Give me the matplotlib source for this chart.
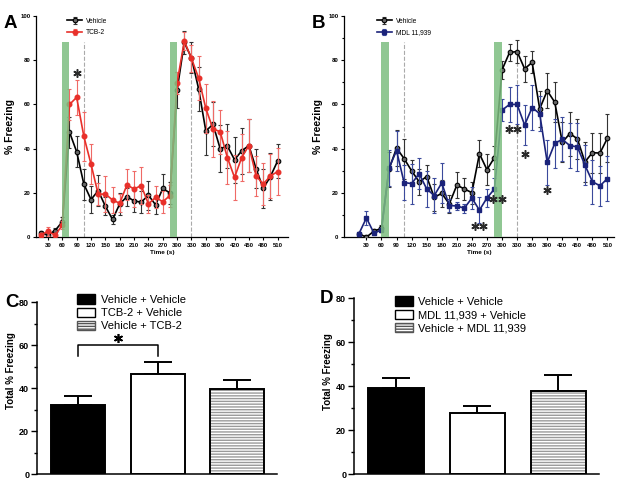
import numpy as np
import matplotlib.pyplot as plt
from matplotlib.patches import Patch
from matplotlib.ticker import MultipleLocator

plt.rcParams['font.family'] = ['Liberation Sans', 'DejaVu Sans']

# time course (s)
time_s = [15, 30, 45, 60, 75, 90, 105, 120, 135, 150, 165, 180, 195, 210, 225, 240, 255,
          270, 285, 300, 315, 330, 345, 360, 375, 390, 405, 420, 435, 450, 465, 480, 495, 510]
xtick_s = [30, 60, 90, 120, 150, 180, 210, 240, 270, 300, 330, 360, 390, 420, 450, 480, 510]

# panel A
veh_a = [2, 1, 3, 7, 47.5, 38.6, 24, 17, 21, 14, 8, 15, 18.3, 16.4, 15.8, 19, 14.6,
         22, 20, 66.5, 88, 81, 67, 48, 51, 40, 41.2, 35, 39, 41.4, 31, 22, 27.4, 34.4]
veh_a_err = [1, 1.5, 1, 2, 7, 7, 7, 6, 7, 4, 2, 5, 4, 5, 5, 6.5, 4,
             6.5, 5, 8, 5, 7, 10, 11, 10, 10.5, 10, 10.5, 10.5, 12, 9, 9, 10.5, 7.5]
tcb = [1, 2.7, 0.8, 5.5, 60, 63.2, 45.6, 33, 19.4, 19.5, 16.8, 15.3, 23.6, 21.8, 23.3, 15, 18,
       16, 18.8, 69.8, 88.7, 80.8, 71.9, 58.2, 48.9, 47.7, 36, 27, 36, 41.4, 27.7, 24, 27.7, 29.6]
tcb_err = [1, 2, 1, 2, 7, 8, 11, 9, 5, 8, 6, 4, 7, 8, 8.5, 4, 5,
           5, 5, 5, 4, 6, 10, 11, 12.5, 10, 12, 10, 10.5, 12, 9, 9.5, 10, 10.5]

# panel B
veh_b = [1.5, 0, 2.7, 4, 30.7, 40.3, 35.5, 30, 25, 27.4, 18, 19.8, 15, 23.5, 21.8, 20.1, 37.7,
         30.5, 36, 75.6, 83.5, 83.9, 76.1, 79, 58, 66.2, 61, 42.9, 46.8, 44.5, 34, 38.2, 38, 44.8]
veh_b_err = [1, 1, 1, 1.5, 8, 8, 9, 5, 6, 5, 6, 6, 4, 6, 5, 5, 6,
             7, 5, 4, 4, 5, 6, 5, 8, 8, 9, 9, 10, 9, 9, 9, 9, 11]
mdl = [1.5, 8.7, 1.8, 3.3, 31.3, 39.1, 24.7, 24.2, 28.7, 21.8, 18.8, 24.5, 14.3, 14.1, 13.1, 17.7, 12.2,
       17.7, 21.8, 57.4, 60, 60, 50.7, 58.6, 55.8, 33.8, 42.4, 44.2, 41.4, 40.8, 32.6, 25.1, 23.2, 26.5]
mdl_err = [1, 3, 1, 1, 8, 9, 8, 9, 7, 8, 8, 9, 3, 2, 2, 5, 6,
           4, 5, 5, 8, 9, 9, 10, 8, 10, 11, 10, 10, 11, 9, 10, 9, 10]

tone_windows = [(60, 75), (285, 300)]
shock_times = [105, 330]
marker_top = 88

stars_a_t = [90]
stars_a_y = [74]
stars_b_t = [246, 263, 283, 299, 314, 330, 346, 390]
stars_b_y = [5, 5, 17.3, 17.3, 49, 49, 37.7, 21.5]

# panels C / D
groups_c = ['Vehicle + Vehicle', 'TCB-2 + Vehicle', 'Vehicle + TCB-2']
total_c = [32.0, 46.4, 39.5]
total_c_err = [4.4, 5.6, 4.2]
groups_d = ['Vehicle + Vehicle', 'MDL 11,939 + Vehicle', 'Vehicle + MDL 11,939']
total_d = [39.3, 27.7, 37.9]
total_d_err = [4.4, 3.4, 7.2]

green = '#7dbd80'


def bold_ticks(ax):
    for lbl in ax.get_xticklabels() + ax.get_yticklabels():
        lbl.set_fontweight('bold')


def time_panel(ax, y1, e1, y2, e2, c2, ec2, m2, ms2, label2, st_t, st_y, xlim, minor_y):
    ax.errorbar(time_s, y1, yerr=e1, color='black', ecolor='#333333', marker='o', ms=3.3,
                mfc='#666666', mec='black', mew=0.8, lw=1.2, elinewidth=0.8, capsize=1.2,
                capthick=0.8, label='Vehicle', zorder=3)
    ax.errorbar(time_s, y2, yerr=e2, color=c2, ecolor=ec2, marker=m2, ms=ms2,
                mfc=c2, mec=c2, lw=1.2, elinewidth=0.8, capsize=1.2, capthick=0.8,
                label=label2, zorder=4)
    for t0, t1 in tone_windows:
        ax.fill_between([t0, t1], 0, marker_top, color=green, alpha=0.85, lw=0, zorder=5)
    for t in shock_times:
        ax.plot([t, t], [0, marker_top], ls='--', color='#aaaaaa', lw=0.8, zorder=1)
    ax.plot(st_t, st_y, ls='none', marker=(6, 2, 0), ms=6, mew=1.1, color='#2a2a2a', zorder=6)
    ax.set_xlim(*xlim)
    ax.set_ylim(0, 100)
    ax.set_xticks(xtick_s)
    ax.set_yticks([0, 20, 40, 60, 80, 100])
    if minor_y:
        ax.yaxis.set_minor_locator(MultipleLocator(10))
    ax.tick_params(labelsize=4.3, length=2.5, width=0.8, pad=1.5)
    ax.tick_params(which='minor', length=1.5, width=0.8)
    bold_ticks(ax)
    for s in ['top', 'right']:
        ax.spines[s].set_visible(False)
    for s in ['left', 'bottom']:
        ax.spines[s].set_linewidth(0.9)
    ax.set_ylabel('% Freezing', fontsize=7.5, fontweight='bold', labelpad=4)
    ax.set_xlabel('Time (s)', fontsize=4.6, fontweight='bold', labelpad=2)
    ax.legend(loc='upper left', bbox_to_anchor=(0.1, 1.02), frameon=False, fontsize=4.8,
              handlelength=2.2, handletextpad=0.6, labelspacing=0.7)


def bar_panel(ax, labels, vals, errs, leg_anchor, label_y):
    x = np.arange(len(vals))
    faces = ['black', 'white', 'none']
    ax.bar(x[2], vals[2], width=0.68, color='white', edgecolor='#9a9a9a', hatch='-' * 6, lw=0, zorder=2)
    ax.bar(x, vals, width=0.68, color=faces, edgecolor='black', lw=1.4, zorder=3)
    ax.errorbar(x, vals, yerr=[[0] * len(vals), errs], fmt='none', ecolor='black',
                elinewidth=1.4, capsize=10, capthick=1.4, zorder=1)
    ax.set_xlim(-0.52, 2.5)
    ax.set_ylim(0, 80)
    ax.set_xticks([])
    ax.set_yticks([0, 20, 40, 60, 80])
    ax.yaxis.set_minor_locator(MultipleLocator(10))
    ax.tick_params(axis='y', labelsize=6.5, length=4, width=1, pad=1.5)
    ax.tick_params(axis='y', which='minor', length=2, width=1)
    bold_ticks(ax)
    for s in ['top', 'right']:
        ax.spines[s].set_visible(False)
    for s in ['left', 'bottom']:
        ax.spines[s].set_linewidth(1.1)
    ax.set_ylabel('Total % Freezing', fontsize=7, fontweight='bold', labelpad=3)
    ax.yaxis.set_label_coords(-0.085, label_y)
    handles = [Patch(facecolor='black', edgecolor='black', lw=1),
               Patch(facecolor='white', edgecolor='black', lw=1),
               Patch(facecolor='white', edgecolor='#555555', hatch='-' * 6, lw=1)]
    ax.legend(handles, labels, loc='upper left', bbox_to_anchor=leg_anchor, frameon=False,
              fontsize=8, handlelength=1.6, handleheight=0.9, handletextpad=0.5,
              labelspacing=0.25, borderaxespad=0)


fig = plt.figure(figsize=(6.24, 4.83), dpi=100)
axA = fig.add_axes([0.0577, 0.509, 0.404, 0.458])
axB = fig.add_axes([0.551, 0.509, 0.433, 0.458])
axC = fig.add_axes([0.059, 0.0186, 0.385, 0.356])
axD = fig.add_axes([0.567, 0.0186, 0.393, 0.364])

time_panel(axA, veh_a, veh_a_err, tcb, tcb_err, '#e8302a', '#ef6a66', 'o', 3.3, 'TCB-2',
           stars_a_t, stars_a_y, (5, 532), False)
time_panel(axB, veh_b, veh_b_err, mdl, mdl_err, '#1b237a', '#3b4a9c', 's', 2.5, 'MDL 11,939',
           stars_b_t, stars_b_y, (-15, 523), True)

bar_panel(axC, groups_c, total_c, total_c_err, (0.15, 1.07), 0.6)
bar_panel(axD, groups_d, total_d, total_d_err, (0.15, 1.035), 0.585)

# significance bracket in C
axC.plot([0, 0, 1, 1], [55, 60, 60, 55], color='black', lw=1.1)
axC.plot([0.5], [63.5], ls='none', marker=(6, 2, 0), ms=6.5, mew=1.2, color='black')

for lbl, xx, yy in [('A', 0.006, 0.968), ('B', 0.5, 0.968), ('C', 0.008, 0.392), ('D', 0.513, 0.4)]:
    fig.text(xx, yy, lbl, fontsize=13.5, fontweight='bold', va='top')

fig.savefig('out.png', dpi=100)
